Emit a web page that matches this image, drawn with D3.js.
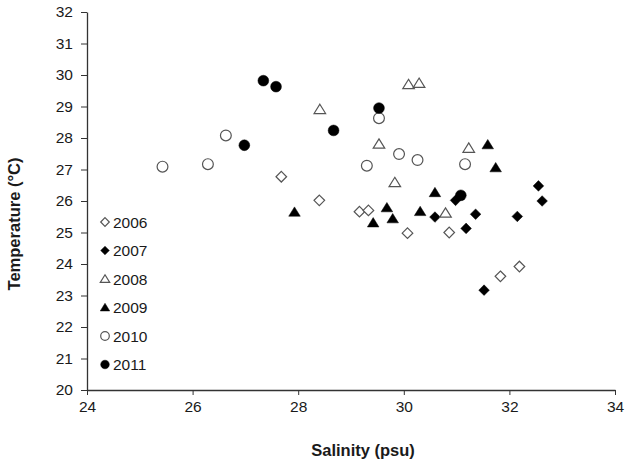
<!DOCTYPE html>
<html>
<head>
<meta charset="utf-8">
<script src="https://d3js.org/d3.v7.min.js"></script>
<style>
body{margin:0;background:#fff;}
text{font-family:Arial,"Liberation Sans",sans-serif;fill:#1a1a1a;}
</style>
</head>
<body>
<div class="canvas"></div>
<script>
//data: salinity (psu) and temperature (C) per year
var years = ['2006','2007','2008','2009','2010','2011'];

var sal2006 = [27.68,28.40,29.16,29.33,30.07,30.86,31.83,32.19];
var tmp2006 = [26.77,26.02,25.66,25.70,24.98,25.00,23.61,23.92];

var sal2007 = [32.55,32.62,31.36,32.15,30.59,31.18,30.98,31.52];
var tmp2007 = [26.48,26.00,25.58,25.51,25.49,25.13,26.02,23.17];

var sal2008 = [30.09,30.29,28.41,29.53,29.83,31.23,30.79];
var tmp2008 = [29.70,29.74,28.91,27.81,26.59,27.68,25.62];

var sal2009 = [27.93,31.59,31.74,30.59,29.68,30.31,29.79,29.42];
var tmp2009 = [25.65,27.79,27.06,26.27,25.79,25.67,25.44,25.31];

var sal2010 = [25.43,26.29,26.63,29.53,29.30,29.91,30.26,31.16];
var tmp2010 = [27.09,27.17,28.08,28.63,27.12,27.49,27.30,27.17];

var sal2011 = [27.34,27.58,26.98,29.53,28.67,31.08];
var tmp2011 = [29.82,29.63,27.77,28.95,28.24,26.18];

var xTicks = [24,26,28,30,32,34];
var yTicks = [20,21,22,23,24,25,26,27,28,29,30,31,32];

var salinity = [sal2006,sal2007,sal2008,sal2009,sal2010,sal2011];
var temperature = [tmp2006,tmp2007,tmp2008,tmp2009,tmp2010,tmp2011];
//marker shape and fill for each year
var shapes = ['diamond','diamond','triangle','triangle','circle','circle'];
var filled = [false,true,false,true,false,true];

var W = 625, H = 464;
var margin = {t:12,r:10,b:74,l:87};

var svg = d3.select('.canvas')
	.append('svg')
	.attr('width',W)
	.attr('height',H);

var x = d3.scaleLinear().domain([24,34]).range([margin.l, 615]);
var y = d3.scaleLinear().domain([20,32]).range([390, margin.t]);

//axes
var xAxis = svg.append('g')
	.attr('transform','translate(0,390)')
	.call(d3.axisBottom(x).tickValues(xTicks).tickSize(5).tickPadding(6).tickSizeOuter(0));
var yAxis = svg.append('g')
	.attr('transform','translate('+margin.l+',0)')
	.call(d3.axisLeft(y).tickValues(yTicks).tickSize(6).tickPadding(8).tickSizeOuter(0));

[xAxis,yAxis].forEach(function(a){
	a.select('.domain').attr('stroke','#333').attr('stroke-width',1.3);
	a.selectAll('.tick line').attr('stroke','#333');
	a.selectAll('.tick text')
		.style('font-size','15.5px')
		.style('font-family','Arial,"Liberation Sans",sans-serif')
		.attr('fill','#1a1a1a');
});

svg.append('text')
	.attr('x',363)
	.attr('y',456)
	.attr('text-anchor','middle')
	.style('font-size','16.5px')
	.style('font-weight','bold')
	.text('Salinity (psu)');

svg.append('text')
	.attr('transform','translate(20,224) rotate(-90)')
	.attr('text-anchor','middle')
	.style('font-size','16.5px')
	.style('font-weight','bold')
	.text('Temperature (\u00B0C)');

//marker path centred on 0,0
function marker(shape,s){
	if(shape=='diamond'){
		return 'M0,'+(-s)+'L'+s+',0L0,'+s+'L'+(-s)+',0Z';
	}
	if(shape=='triangle'){
		var h = s*1.7;
		return 'M0,'+(-h*0.55)+'L'+s*1.05+','+h*0.45+'L'+(-s*1.05)+','+h*0.45+'Z';
	}
	return 'M'+s+',0A'+s+','+s+' 0 1,1 '+(-s)+',0A'+s+','+s+' 0 1,1 '+s+',0Z';
}

function styleMarker(sel,i){
	sel.attr('fill',filled[i] ? '#000' : '#fff')
		.attr('stroke',filled[i] ? '#000' : '#555')
		.attr('stroke-width',filled[i] ? 0.5 : 1.2);
}

var sizes = {diamond:5.3,triangle:5.5,circle:5.4};

years.forEach(function(yr,i){
	var pts = salinity[i].map(function(s,j){ return {s:s,t:temperature[i][j]}; });
	var g = svg.append('g').attr('class','y'+yr);
	g.selectAll('path')
		.data(pts)
		.enter()
		.append('path')
		.attr('transform',function(d){ return 'translate('+x(d.s)+','+y(d.t)+')'; })
		.attr('d',marker(shapes[i],sizes[shapes[i]]))
		.call(styleMarker,i);
});

//legend
var legend = svg.append('g').attr('transform','translate(105,222)');
years.forEach(function(yr,i){
	var row = legend.append('g').attr('transform','translate(0,'+(i*28.5)+')');
	row.append('path')
		.attr('d',marker(shapes[i],shapes[i]=='triangle' ? 4.5 : 4.3))
		.call(styleMarker,i);
	row.append('text')
		.attr('x',8)
		.attr('y',5.5)
		.style('font-size','15.5px')
		.text(yr);
});
</script>
</body>
</html>
